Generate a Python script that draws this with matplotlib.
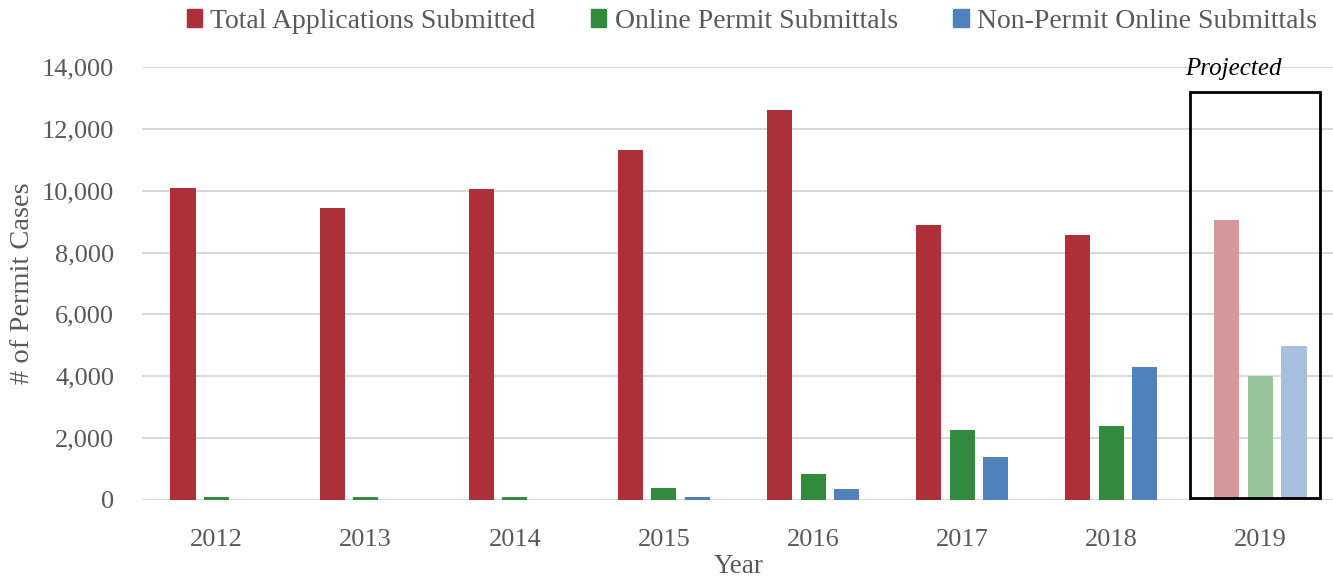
import numpy as np
import matplotlib.pyplot as plt
from matplotlib.patches import Rectangle, Patch

years = ['2012', '2013', '2014', '2015', '2016', '2017', '2018', '2019']
total_apps = [10100, 9450, 10050, 11320, 12610, 8890, 8570, 9050]
online_permit = [90, 90, 90, 390, 840, 2270, 2400, 4020]
non_permit_online = [0, 0, 0, 100, 370, 1390, 4290, 4980]
series_names = ['Total Applications Submitted', 'Online Permit Submittals',
                'Non-Permit Online Submittals']

colors = ['#ad3038', '#328a3e', '#4f81bd']
light = ['#d5999c', '#99c59d', '#a8bfdd']
txt = '#595959'

plt.rcParams['font.family'] = ['Liberation Serif', 'DejaVu Serif']
plt.rcParams['font.size'] = 19

fig = plt.figure(figsize=(13.33, 5.86), dpi=100)
ax = fig.add_axes([0.1065, 0.1468, 0.895, 0.7389])

x = np.arange(len(years))
step, w = 0.225, 0.168
for k, vals in enumerate([total_apps, online_permit, non_permit_online]):
    cols = [colors[k]] * (len(years) - 1) + [light[k]]
    ax.bar(x + (k - 1) * step, vals, width=w, color=cols, zorder=3)

ax.set_xlim(-0.5, len(years) - 0.5)
ax.set_ylim(0, 14000)
ax.set_yticks(np.arange(0, 14001, 2000))
ax.set_yticklabels([f'{v:,}' for v in range(0, 14001, 2000)])
ax.set_xticks(x)
ax.set_xticklabels(years)
ax.grid(axis='y', color='#d9d9d9', linewidth=1.5, zorder=0)
for s in ax.spines.values():
    s.set_visible(False)
ax.axhline(0, color='#d9d9d9', linewidth=2, zorder=2)
ax.tick_params(axis='both', length=0, colors=txt, labelsize=19)
ax.tick_params(axis='y', pad=20)
ax.tick_params(axis='x', pad=21)

ax.set_ylabel('# of Permit Cases', color=txt, fontsize=20.5, va='center')
ax.yaxis.set_label_coords(-0.1, 0.5)
ax.set_xlabel('Year', color=txt, fontsize=19.5, labelpad=2)

# projected box around 2019
ax.add_patch(Rectangle((6.527, 80), 0.873, 13120, fill=False, edgecolor='black',
                       linewidth=2, zorder=4, clip_on=False))
ax.text(6.82, 13950, 'Projected', style='italic', ha='center', va='center',
        fontsize=18, color='black')

handles = [Patch(color=c) for c in colors]
fig.legend(handles, series_names, loc='center', bbox_to_anchor=(0.564, 0.964), ncol=3,
           frameon=False, handlelength=0.55, handleheight=0.65, handletextpad=0.3,
           columnspacing=2.0, labelcolor=txt, fontsize=20)

fig.savefig('out.png', dpi=100)
